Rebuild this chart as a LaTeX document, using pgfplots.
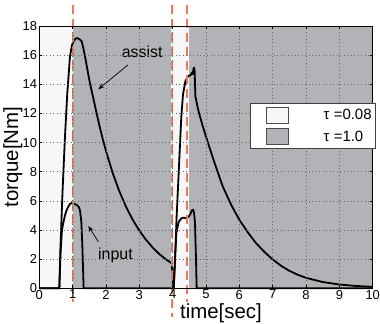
\documentclass[border=0pt]{standalone}
\usepackage{pgfplots}
\pgfplotsset{compat=1.18}
\usepackage{fontspec}
\setmainfont{Liberation Sans}
\usetikzlibrary{arrows.meta}
\definecolor{lightreg}{RGB}{247,247,247}
\definecolor{darkreg}{RGB}{178,179,183}
\definecolor{dashcol}{RGB}{235,122,92}
\begin{document}
\begin{tikzpicture}
\begin{axis}[
  scale only axis, width=333.4bp, height=262.3bp,
  xmin=0, xmax=10, ymin=0, ymax=18,
  xtick={0,1,...,10}, ytick={0,2,...,18},
  clip=false, axis on top,
  grid=major,
  major grid style={black!60, line width=0.6bp, dash pattern=on 0.9bp off 2.6bp},
  tick style={black, line width=0.6bp}, major tick length=3bp,
  axis line style={black, line width=0.9bp},
  /pgf/number format/assume math mode=true,
  tick label style={font=\fontsize{13}{13}\selectfont},
  xticklabel style={inner sep=1bp, yshift=-0.5bp},
  yticklabel style={inner sep=1bp, xshift=-1bp},
  xlabel={time[sec]}, ylabel={torque[Nm]},
  label style={font=\fontsize{20.5}{20.5}\selectfont},
  xlabel style={at={(axis description cs:0.545,-0.117)}, anchor=base},
  ylabel style={at={(axis description cs:-0.079,0.5)}, anchor=center},
  legend image code/.code={\path (0bp,0bp); \draw[#1,draw=black!70,line width=0.8bp] (11.3bp,-7.8bp) rectangle (33.6bp,7.8bp);},
  legend style={at={(axis cs:6.33,12.74)}, anchor=north west,
    draw=black!75, line width=0.8bp, fill=white,
    inner xsep=4bp, inner ysep=4bp, row sep=5bp,
    font=\fontsize{15}{15}\selectfont,
    nodes={inner sep=0bp},
    /tikz/every odd column/.append style={column sep=29bp}},
  legend cell align=left,
]
% background regions
\addplot[fill=lightreg, draw=none] coordinates {(0,18) (1.02,18)} \closedcycle;
\addlegendentry{\hspace*{6bp}τ =0.08}
\addplot[fill=darkreg, draw=none] coordinates {(1.02,18) (3.95,18)} \closedcycle;
\addlegendentry{\hspace*{6bp}τ =1.0}
\addplot[fill=lightreg, draw=none, forget plot] coordinates {(3.95,18) (4.5,18)} \closedcycle;
\addplot[fill=darkreg, draw=none, forget plot] coordinates {(4.5,18) (10,18)} \closedcycle;

% assist torque
\addplot[black, line width=1.8bp, forget plot, line join=round] coordinates {
(0,0) (0.6,0) (0.63,2.5) (0.67,5) (0.7,6.8) (0.77,10.4) (0.84,13.4) (0.92,15.9)
(0.98,16.7) (1.04,17.0) (1.1,17.15) (1.17,17.15) (1.23,17.05) (1.27,16.95)
(1.32,16.5) (1.38,15.8) (1.44,15.05) (1.5,14.3) (1.56,13.65) (1.62,13.05)
(1.72,12.0) (1.8,11.2) (1.9,10.27) (2.0,9.42) (2.2,7.92) (2.4,6.66)
(2.6,5.6) (2.8,4.71) (3.0,3.96) (3.2,3.33) (3.4,2.8) (3.6,2.35) (3.8,1.98)
(3.98,1.7)
(4.0,0) (4.03,0) (4.05,0.8) (4.08,2.5) (4.12,5) (4.16,6.9) (4.2,8.9)
(4.26,11.8) (4.31,13.3) (4.38,14.2) (4.46,14.55) (4.55,14.65) (4.58,14.8)
(4.6,14.7) (4.62,15.0) (4.64,15.15) (4.66,14.9) (4.68,13.2) (4.76,12.3)
(4.88,11.3) (5.0,10.4) (5.25,8.65) (5.5,7.0) (5.75,5.75) (6.0,4.7)
(6.25,3.85) (6.5,3.1) (6.75,2.5) (7.0,1.98) (7.25,1.55) (7.5,1.2)
(7.75,0.93) (8.0,0.72) (8.5,0.43) (9.0,0.26) (9.5,0.16) (10,0.1)
};
% input torque
\addplot[black, line width=1.8bp, forget plot, line join=round] coordinates {
(0,0) (0.6,0) (0.64,2.5) (0.68,4.0) (0.72,4.5) (0.77,5.0) (0.82,5.37)
(0.87,5.6) (0.92,5.79) (0.97,5.85) (1.05,5.8) (1.12,5.72) (1.18,5.6)
(1.22,5.35) (1.26,4.6) (1.29,3.0) (1.33,0) (4.03,0) (4.07,2.0) (4.11,3.8)
(4.18,4.55) (4.26,4.8) (4.33,4.85) (4.41,4.8) (4.48,4.9) (4.53,5.1)
(4.58,5.35) (4.61,5.4) (4.64,5.2) (4.67,4.5) (4.7,2.0) (4.72,0) (10,0)
};
% switching instants
\addplot[dashcol, line width=2bp, dash pattern=on 9bp off 5bp, forget plot] coordinates {(1.0,19.45) (1.0,-0.94)};
\addplot[dashcol, line width=2bp, dash pattern=on 9bp off 5bp, forget plot] coordinates {(3.99,19.45) (3.99,-2.0)};
\addplot[dashcol, line width=2bp, dash pattern=on 9bp off 5bp, forget plot] coordinates {(4.44,19.45) (4.44,-0.94)};

% annotations
\node[anchor=base west, inner sep=0pt, font=\fontsize{16}{16}\selectfont] at (axis cs:2.47,15.85) {assist};
\draw[-{Stealth[length=6bp,width=4.5bp]}, line width=0.7bp] (axis cs:2.66,15.33) -- (axis cs:1.77,13.66);
\node[anchor=base west, inner sep=0pt, font=\fontsize{16}{16}\selectfont] at (axis cs:1.76,1.99) {input};
\draw[-{Stealth[length=6bp,width=4.5bp]}, line width=0.7bp] (axis cs:1.77,3.2) -- (axis cs:1.47,4.28);
\end{axis}
\pgfresetboundingbox
\path[use as bounding box] ([shift={(-39.3bp,-35.7bp)}]current axis.south west) rectangle ([shift={(7.3bp,26bp)}]current axis.north east);
\end{tikzpicture}
\end{document}
